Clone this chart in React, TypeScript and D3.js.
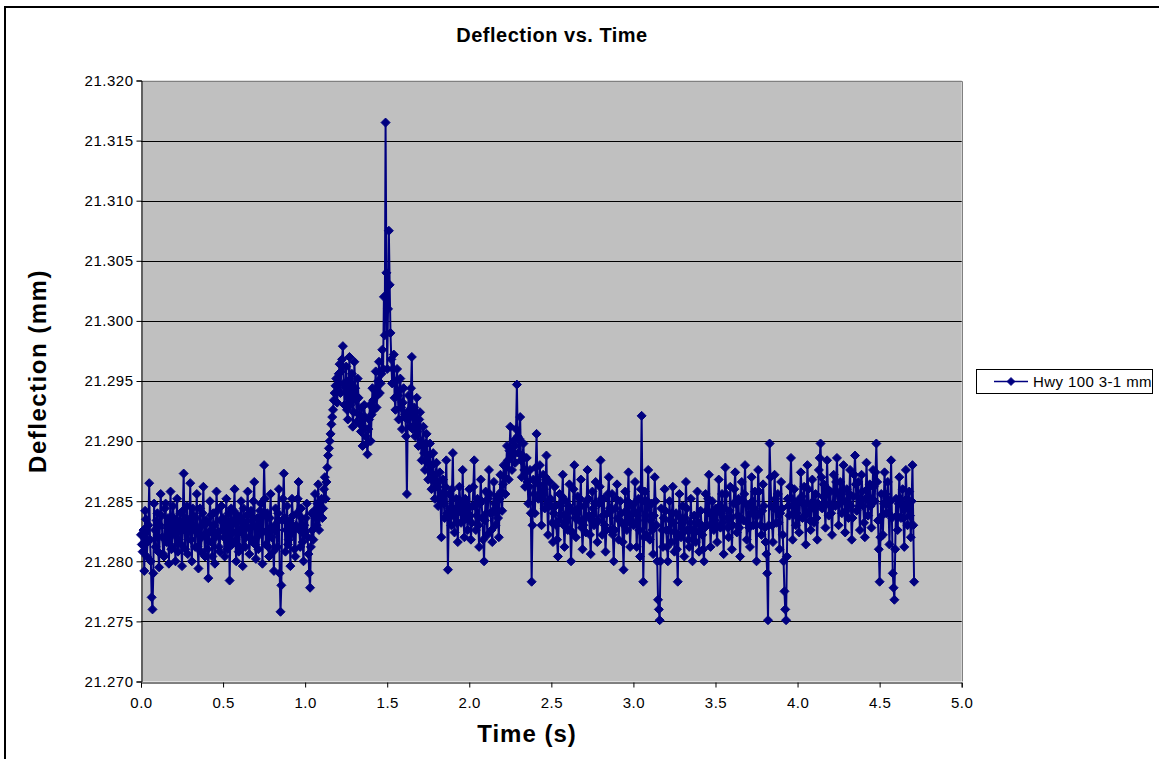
import { useEffect, useRef } from "react";
import * as d3 from "d3";

// readings every 0.01 s (a) plus the in-between readings offset by 0.005 s (b), mm
const SAMPLE_STEP = 0.01;

const defl0 = [21.2822, 21.2808, 21.2792, 21.2835, 21.2816, 21.2865, 21.2800, 21.2760, 21.2848, 21.2812,
  21.2840, 21.2795, 21.2856, 21.2820, 21.2804, 21.2848, 21.2828, 21.2798, 21.2858, 21.2812,
  21.2836, 21.2800, 21.2852, 21.2818, 21.2840, 21.2796, 21.2873, 21.2810, 21.2846, 21.2824,
  21.2865, 21.2800, 21.2838, 21.2812, 21.2856, 21.2794, 21.2844, 21.2820, 21.2862, 21.2804,
  21.2832, 21.2786, 21.2850, 21.2816, 21.2840, 21.2798, 21.2858, 21.2824, 21.2808, 21.2846];

const defl1 = [21.2836, 21.2804, 21.2852, 21.2816, 21.2784, 21.2844, 21.2824, 21.2860, 21.2800, 21.2838,
  21.2812, 21.2850, 21.2796, 21.2832, 21.2820, 21.2858, 21.2806, 21.2842, 21.2816, 21.2866,
  21.2802, 21.2836, 21.2822, 21.2848, 21.2798, 21.2880, 21.2814, 21.2840, 21.2804, 21.2856,
  21.2826, 21.2792, 21.2844, 21.2812, 21.2860, 21.2758, 21.2834, 21.2873, 21.2808, 21.2846,
  21.2818, 21.2796, 21.2852, 21.2826, 21.2804, 21.2840, 21.2866, 21.2812, 21.2836, 21.2800];

const defl2 = [21.2824, 21.2848, 21.2806, 21.2778, 21.2840, 21.2818, 21.2856, 21.2830, 21.2864, 21.2838,
  21.2852, 21.2844, 21.2870, 21.2866, 21.2888, 21.2900, 21.2914, 21.2926, 21.2940, 21.2952,
  21.2946, 21.2964, 21.2958, 21.2979, 21.2930, 21.2962, 21.2918, 21.2970, 21.2940, 21.2912,
  21.2966, 21.2934, 21.2952, 21.2922, 21.2908, 21.2896, 21.2930, 21.2904, 21.2889, 21.2918,
  21.2900, 21.2944, 21.2926, 21.2958, 21.2938, 21.2966, 21.2948, 21.2976, 21.3020, 21.3165];

const defl3 = [21.2960, 21.3075, 21.2990, 21.2948, 21.2972, 21.2926, 21.2960, 21.2918, 21.2952, 21.2910,
  21.2944, 21.2922, 21.2856, 21.2938, 21.2912, 21.2970, 21.2920, 21.2904, 21.2936, 21.2896,
  21.2924, 21.2884, 21.2912, 21.2876, 21.2906, 21.2868, 21.2898, 21.2860, 21.2890, 21.2852,
  21.2882, 21.2846, 21.2874, 21.2820, 21.2868, 21.2836, 21.2884, 21.2793, 21.2856, 21.2830,
  21.2890, 21.2824, 21.2852, 21.2816, 21.2862, 21.2832, 21.2876, 21.2820, 21.2848, 21.2826];

const defl4 = [21.2860, 21.2818, 21.2846, 21.2884, 21.2826, 21.2852, 21.2812, 21.2868, 21.2836, 21.2800,
  21.2858, 21.2822, 21.2876, 21.2840, 21.2816, 21.2866, 21.2830, 21.2854, 21.2820, 21.2872,
  21.2842, 21.2880, 21.2856, 21.2896, 21.2868, 21.2912, 21.2876, 21.2900, 21.2882, 21.2947,
  21.2890, 21.2920, 21.2870, 21.2898, 21.2862, 21.2886, 21.2848, 21.2876, 21.2783, 21.2868,
  21.2840, 21.2906, 21.2852, 21.2880, 21.2830, 21.2872, 21.2844, 21.2888, 21.2822, 21.2866];

const defl5 = [21.2846, 21.2816, 21.2862, 21.2830, 21.2804, 21.2856, 21.2838, 21.2872, 21.2812, 21.2850,
  21.2826, 21.2864, 21.2800, 21.2842, 21.2880, 21.2820, 21.2854, 21.2834, 21.2868, 21.2810,
  21.2846, 21.2824, 21.2876, 21.2838, 21.2806, 21.2858, 21.2830, 21.2866, 21.2816, 21.2848,
  21.2884, 21.2822, 21.2852, 21.2808, 21.2840, 21.2870, 21.2826, 21.2856, 21.2800, 21.2844,
  21.2864, 21.2818, 21.2850, 21.2832, 21.2793, 21.2858, 21.2826, 21.2874, 21.2812, 21.2846];

const defl6 = [21.2830, 21.2866, 21.2812, 21.2852, 21.2804, 21.2921, 21.2783, 21.2858, 21.2822, 21.2876,
  21.2818, 21.2848, 21.2806, 21.2870, 21.2830, 21.2768, 21.2751, 21.2844, 21.2812, 21.2860,
  21.2826, 21.2800, 21.2850, 21.2816, 21.2862, 21.2808, 21.2840, 21.2783, 21.2856, 21.2820,
  21.2846, 21.2804, 21.2866, 21.2826, 21.2812, 21.2852, 21.2800, 21.2838, 21.2816, 21.2858,
  21.2808, 21.2842, 21.2822, 21.2800, 21.2856, 21.2830, 21.2872, 21.2812, 21.2850, 21.2826];

const defl7 = [21.2844, 21.2816, 21.2868, 21.2828, 21.2856, 21.2806, 21.2878, 21.2836, 21.2820, 21.2862,
  21.2810, 21.2848, 21.2874, 21.2824, 21.2852, 21.2804, 21.2866, 21.2834, 21.2880, 21.2818,
  21.2846, 21.2812, 21.2870, 21.2830, 21.2858, 21.2800, 21.2876, 21.2840, 21.2822, 21.2864,
  21.2828, 21.2806, 21.2751, 21.2898, 21.2846, 21.2816, 21.2872, 21.2832, 21.2856, 21.2810,
  21.2866, 21.2822, 21.2775, 21.2751, 21.2852, 21.2838, 21.2886, 21.2818, 21.2860, 21.2830];

const defl8 = [21.2850, 21.2824, 21.2874, 21.2836, 21.2862, 21.2814, 21.2880, 21.2842, 21.2826, 21.2868,
  21.2832, 21.2856, 21.2818, 21.2876, 21.2898, 21.2844, 21.2864, 21.2828, 21.2884, 21.2838,
  21.2858, 21.2822, 21.2872, 21.2846, 21.2886, 21.2830, 21.2866, 21.2840, 21.2880, 21.2824,
  21.2860, 21.2836, 21.2876, 21.2818, 21.2854, 21.2888, 21.2842, 21.2866, 21.2826, 21.2872,
  21.2846, 21.2820, 21.2882, 21.2838, 21.2864, 21.2828, 21.2876, 21.2850, 21.2898, 21.2834];

const defl9 = [21.2783, 21.2856, 21.2822, 21.2874, 21.2840, 21.2866, 21.2814, 21.2884, 21.2790, 21.2768,
  21.2852, 21.2826, 21.2870, 21.2836, 21.2860, 21.2812, 21.2876, 21.2830, 21.2858, 21.2820,
  21.2880, 21.2783];

const defl0b = [21.2814, 21.2826, 21.2842, 21.2804, 21.2830, 21.2818, 21.2770, 21.2790, 21.2826, 21.2834,
  21.2808, 21.2830, 21.2838, 21.2806, 21.2844, 21.2816, 21.2836, 21.2828, 21.2810, 21.2846,
  21.2822, 21.2830, 21.2808, 21.2834, 21.2814, 21.2842, 21.2826, 21.2836, 21.2806, 21.2832,
  21.2818, 21.2844, 21.2826, 21.2836, 21.2812, 21.2828, 21.2808, 21.2840, 21.2822, 21.2834,
  21.2810, 21.2824, 21.2838, 21.2804, 21.2830, 21.2820, 21.2842, 21.2812, 21.2834, 21.2826];

const defl1b = [21.2820, 21.2832, 21.2810, 21.2840, 21.2826, 21.2814, 21.2842, 21.2818, 21.2832, 21.2808,
  21.2836, 21.2824, 21.2844, 21.2812, 21.2838, 21.2828, 21.2820, 21.2834, 21.2850, 21.2814,
  21.2830, 21.2810, 21.2842, 21.2826, 21.2838, 21.2852, 21.2824, 21.2812, 21.2836, 21.2820,
  21.2808, 21.2830, 21.2826, 21.2840, 21.2790, 21.2780, 21.2852, 21.2836, 21.2826, 21.2814,
  21.2834, 21.2822, 21.2838, 21.2810, 21.2830, 21.2852, 21.2826, 21.2844, 21.2816, 21.2830];

const defl2b = [21.2836, 21.2820, 21.2790, 21.2812, 21.2826, 21.2842, 21.2836, 21.2848, 21.2826, 21.2850,
  21.2836, 21.2860, 21.2852, 21.2878, 21.2894, 21.2906, 21.2920, 21.2934, 21.2946, 21.2932,
  21.2956, 21.2940, 21.2968, 21.2948, 21.2944, 21.2926, 21.2950, 21.2930, 21.2956, 21.2924,
  21.2944, 21.2916, 21.2936, 21.2914, 21.2928, 21.2912, 21.2920, 21.2898, 21.2910, 21.2930,
  21.2922, 21.2934, 21.2942, 21.2928, 21.2950, 21.2940, 21.2956, 21.2960, 21.2988, 21.3040];

const defl3b = [21.3010, 21.3030, 21.2968, 21.2960, 21.2936, 21.2950, 21.2938, 21.2942, 21.2928, 21.2932,
  21.2920, 21.2904, 21.2918, 21.2926, 21.2944, 21.2910, 21.2928, 21.2914, 21.2908, 21.2918,
  21.2900, 21.2896, 21.2890, 21.2898, 21.2882, 21.2888, 21.2874, 21.2880, 21.2866, 21.2872,
  21.2862, 21.2866, 21.2850, 21.2856, 21.2848, 21.2862, 21.2840, 21.2836, 21.2844, 21.2860,
  21.2838, 21.2842, 21.2832, 21.2846, 21.2850, 21.2840, 21.2834, 21.2852, 21.2836, 21.2844];

const defl4b = [21.2838, 21.2832, 21.2862, 21.2846, 21.2838, 21.2830, 21.2848, 21.2850, 21.2818, 21.2834,
  21.2840, 21.2852, 21.2856, 21.2826, 21.2842, 21.2848, 21.2840, 21.2836, 21.2852, 21.2858,
  21.2864, 21.2870, 21.2878, 21.2884, 21.2892, 21.2890, 21.2888, 21.2896, 21.2910, 21.2904,
  21.2902, 21.2884, 21.2888, 21.2876, 21.2874, 21.2866, 21.2862, 21.2840, 21.2830, 21.2856,
  21.2878, 21.2868, 21.2864, 21.2852, 21.2856, 21.2860, 21.2870, 21.2848, 21.2846, 21.2852];

const defl5b = [21.2832, 21.2840, 21.2846, 21.2818, 21.2834, 21.2848, 21.2854, 21.2830, 21.2832, 21.2840,
  21.2846, 21.2826, 21.2824, 21.2860, 21.2836, 21.2840, 21.2844, 21.2852, 21.2828, 21.2830,
  21.2836, 21.2850, 21.2852, 21.2822, 21.2834, 21.2844, 21.2848, 21.2832, 21.2834, 21.2862,
  21.2852, 21.2838, 21.2830, 21.2826, 21.2856, 21.2844, 21.2842, 21.2822, 21.2826, 21.2852,
  21.2836, 21.2834, 21.2840, 21.2816, 21.2830, 21.2842, 21.2850, 21.2836, 21.2832, 21.2840];

const defl6b = [21.2848, 21.2840, 21.2834, 21.2826, 21.2860, 21.2850, 21.2820, 21.2838, 21.2850, 21.2846,
  21.2834, 21.2826, 21.2838, 21.2850, 21.2800, 21.2760, 21.2800, 21.2826, 21.2836, 21.2842,
  21.2812, 21.2826, 21.2834, 21.2840, 21.2832, 21.2824, 21.2810, 21.2822, 21.2836, 21.2832,
  21.2824, 21.2836, 21.2844, 21.2818, 21.2832, 21.2826, 21.2818, 21.2826, 21.2838, 21.2832,
  21.2824, 21.2830, 21.2810, 21.2828, 21.2842, 21.2852, 21.2840, 21.2830, 21.2838, 21.2834];

const defl7b = [21.2830, 21.2842, 21.2846, 21.2840, 21.2832, 21.2844, 21.2856, 21.2828, 21.2842, 21.2836,
  21.2830, 21.2860, 21.2848, 21.2838, 21.2828, 21.2836, 21.2850, 21.2856, 21.2848, 21.2832,
  21.2828, 21.2840, 21.2850, 21.2844, 21.2830, 21.2838, 21.2858, 21.2830, 21.2842, 21.2846,
  21.2816, 21.2790, 21.2830, 21.2870, 21.2830, 21.2844, 21.2852, 21.2844, 21.2832, 21.2840,
  21.2844, 21.2800, 21.2760, 21.2804, 21.2846, 21.2862, 21.2852, 21.2840, 21.2846, 21.2840];

const defl8b = [21.2836, 21.2850, 21.2854, 21.2848, 21.2838, 21.2848, 21.2860, 21.2834, 21.2846, 21.2850,
  21.2844, 21.2836, 21.2848, 21.2886, 21.2870, 21.2854, 21.2846, 21.2856, 21.2860, 21.2848,
  21.2840, 21.2846, 21.2858, 21.2866, 21.2856, 21.2848, 21.2852, 21.2860, 21.2850, 21.2842,
  21.2848, 21.2856, 21.2846, 21.2836, 21.2872, 21.2864, 21.2854, 21.2846, 21.2850, 21.2858,
  21.2832, 21.2852, 21.2860, 21.2850, 21.2846, 21.2852, 21.2862, 21.2874, 21.2866, 21.2810];

const defl9b = [21.2820, 21.2838, 21.2848, 21.2856, 21.2852, 21.2840, 21.2850, 21.2836, 21.2778, 21.2810,
  21.2838, 21.2848, 21.2852, 21.2848, 21.2836, 21.2844, 21.2852, 21.2844, 21.2838, 21.2850,
  21.2830];

const xTicks = [0, 0.5, 1, 1.5, 2, 2.5, 3, 3.5, 4, 4.5, 5];
const yTicks = [21.27, 21.275, 21.28, 21.285, 21.29, 21.295, 21.3, 21.305, 21.31, 21.315, 21.32];

const seriesName = "Hwy 100 3-1 mm";
const title = "Deflection vs. Time";
const xTitle = "Time (s)";
const yTitle = "Deflection (mm)";

export default function App() {
  const ref = useRef<SVGSVGElement>(null);

  useEffect(() => {
    const svg = d3.select(ref.current);
    svg.selectAll("*").remove();

    const width = 1159;
    const height = 759;
    const font = "'Liberation Sans', Arial, sans-serif";
    const navy = "#000080";

    const onGrid = [...defl0, ...defl1, ...defl2, ...defl3, ...defl4, ...defl5, ...defl6, ...defl7, ...defl8, ...defl9];
    const between = [...defl0b, ...defl1b, ...defl2b, ...defl3b, ...defl4b, ...defl5b, ...defl6b, ...defl7b, ...defl8b, ...defl9b];
    const data = [
      ...onGrid.map((v, i) => ({ t: i * SAMPLE_STEP, v })),
      ...between.map((v, i) => ({ t: i * SAMPLE_STEP + SAMPLE_STEP / 2, v })),
    ].sort((a, b) => a.t - b.t);

    const x = d3.scaleLinear().domain([0, 5]).range([141, 961.7]);
    const y = d3.scaleLinear().domain([21.27, 21.32]).range([681.5, 80.5]);

    svg.attr("width", width).attr("height", height);

    svg.append("rect").attr("width", width).attr("height", height).attr("fill", "#fff");
    svg.append("rect")
      .attr("x", 5).attr("y", 7)
      .attr("width", width).attr("height", height)
      .attr("fill", "none").attr("stroke", "#000").attr("stroke-width", 2);

    // plot area
    svg.append("rect")
      .attr("x", x(0)).attr("y", y(21.32))
      .attr("width", x(5) - x(0)).attr("height", y(21.27) - y(21.32))
      .attr("fill", "#c0c0c0");

    svg.append("g")
      .selectAll("line")
      .data(yTicks.slice(1, -1))
      .join("line")
      .attr("x1", x(0)).attr("x2", x(5))
      .attr("y1", d => Math.round(y(d)) + 0.5).attr("y2", d => Math.round(y(d)) + 0.5)
      .attr("stroke", "#000").attr("stroke-width", 1);

    // gray border top/right
    svg.append("path")
      .attr("d", `M${x(0)},${Math.round(y(21.32)) + 0.5}H${Math.round(x(5)) + 0.5}V${y(21.27)}`)
      .attr("fill", "none").attr("stroke", "#808080").attr("stroke-width", 1);

    // axes
    const gy = svg.append("g").attr("transform", `translate(${Math.round(x(0)) + 0.5},0)`)
      .call(d3.axisLeft(y).tickValues(yTicks).tickFormat(d3.format(".3f")).tickSizeOuter(0).tickSize(5).tickPadding(3));
    gy.select(".domain").attr("stroke", "#000");
    gy.selectAll(".tick line").attr("stroke", "#000");
    gy.selectAll(".tick text")
      .attr("font-family", font).attr("font-size", 15).attr("fill", "#000")
      .attr("letter-spacing", 0.5);

    const gx = svg.append("g").attr("transform", `translate(0,${Math.round(y(21.27)) + 0.5})`)
      .call(d3.axisBottom(x).tickValues(xTicks).tickFormat(d3.format(".1f")).tickSizeOuter(0).tickSize(5).tickPadding(10));
    gx.select(".domain").attr("stroke", "#000");
    gx.selectAll(".tick line").attr("stroke", "#000");
    gx.selectAll(".tick text")
      .attr("font-family", font).attr("font-size", 15).attr("fill", "#000")
      .attr("letter-spacing", 0.5);

    // series
    const line = d3.line<{ t: number; v: number }>().x(d => x(d.t)).y(d => y(d.v));
    svg.append("path")
      .datum(data)
      .attr("d", line)
      .attr("fill", "none").attr("stroke", navy).attr("stroke-width", 2);

    const diamond = "M0,-4.5L4.5,0L0,4.5L-4.5,0Z";
    svg.append("g")
      .selectAll("path")
      .data(data)
      .join("path")
      .attr("d", diamond)
      .attr("transform", d => `translate(${x(d.t)},${y(d.v)})`)
      .attr("fill", navy).attr("stroke", navy).attr("stroke-width", 1);

    // titles
    svg.append("text")
      .attr("x", 552).attr("y", 42)
      .attr("text-anchor", "middle")
      .attr("font-family", font).attr("font-weight", "bold").attr("font-size", 20)
      .attr("letter-spacing", 0.5)
      .text(title);

    svg.append("text")
      .attr("x", 527).attr("y", 742)
      .attr("text-anchor", "middle")
      .attr("font-family", font).attr("font-weight", "bold").attr("font-size", 24)
      .attr("letter-spacing", 1)
      .text(xTitle);

    svg.append("text")
      .attr("transform", "translate(46,371) rotate(-90)")
      .attr("text-anchor", "middle")
      .attr("font-family", font).attr("font-weight", "bold").attr("font-size", 24)
      .attr("letter-spacing", 1.5)
      .text(yTitle);

    // legend
    const lg = svg.append("g");
    lg.append("rect")
      .attr("x", 976.5).attr("y", 369.5).attr("width", 176).attr("height", 24)
      .attr("fill", "#fff").attr("stroke", "#000").attr("stroke-width", 1);
    lg.append("line")
      .attr("x1", 994).attr("x2", 1028).attr("y1", 381.5).attr("y2", 381.5)
      .attr("stroke", navy).attr("stroke-width", 1.5);
    lg.append("path")
      .attr("d", "M0,-4L4,0L0,4L-4,0Z")
      .attr("transform", "translate(1011,381.5)")
      .attr("fill", navy).attr("stroke", navy).attr("stroke-width", 0.8);
    lg.append("text")
      .attr("x", 1033).attr("y", 387)
      .attr("font-family", font).attr("font-size", 15).attr("letter-spacing", 0.4)
      .text(seriesName);
  }, []);

  return <svg ref={ref} style={{ position: "absolute", left: 0, top: 0 }}></svg>;
}
